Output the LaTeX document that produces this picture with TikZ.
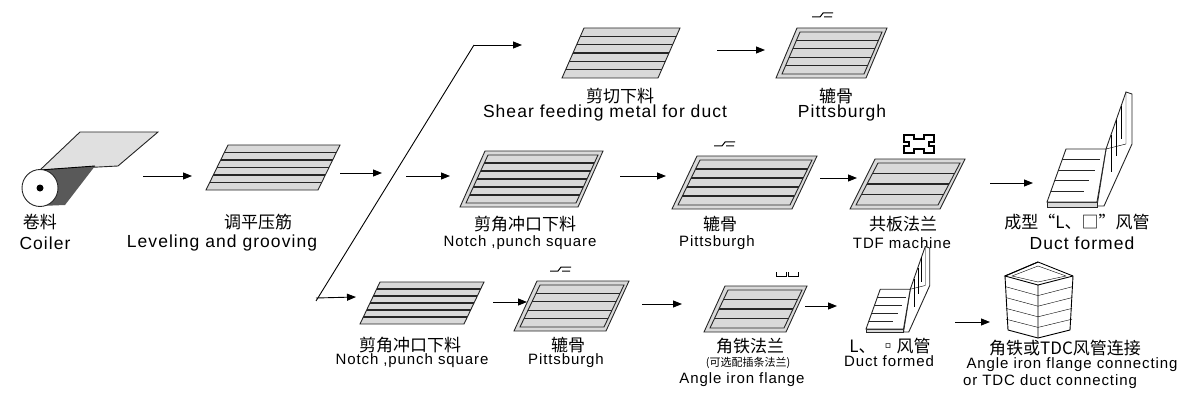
\documentclass[tikz,border=0pt]{standalone}
\usepackage{fontspec}
\setmainfont{Liberation Sans}
\newfontfamily\cjk{Noto Sans CJK SC}
\newfontfamily\spc[LetterSpace=6]{Liberation Sans}
\usetikzlibrary{arrows.meta}
\tikzset{
 sheet/.style={draw=black!85,fill=black!15,line width=0.9pt},
 ln/.style={draw=black!85,line width=1.1pt},
 arr/.style={-{Triangle[length=9pt,width=7pt]},line width=0.9pt},
 cn/.style={font=\cjk\fontsize{17}{17}\selectfont,inner sep=0pt},
 en/.style={font=\spc\fontsize{17.5}{17.5}\selectfont,inner sep=0pt},
 es/.style={font=\spc\fontsize{15}{15}\selectfont,inner sep=0pt},
 sm/.style={font=\cjk\fontsize{11}{11}\selectfont,inner sep=0pt},
}
\newcommand\grsheet[6]{%
 \filldraw[sheet] (#1,#2) -- ++(#3,0) -- ++(-#5,#4) -- ++(-#3,0) -- cycle;
 \foreach \i in {1,...,#6}{\draw[ln] ({#1-#5*\i/(#6+1)},{#2+#4*\i/(#6+1)}) -- ++(#3,0);}}
\newcommand\rmsheet[6]{%
 \filldraw[sheet] ({#1-3},{#2-4}) -- ++({#3+8},0) -- ++({-#5-3},{#4+8}) -- ++({-#3-8},0) -- cycle;
 \grsheet{#1}{#2}{#3}{#4}{#5}{#6}}
\newcommand\pitsym[2]{\draw[line width=1pt] (#1,#2) -- ++(8,0) -- ++(3,-4) -- ++(10,0) (#1+12,#2) -- ++(8,0);}
\newcommand\lduct[3]{%
 \begin{scope}[shift={(#1,#2)},scale=#3]
 \filldraw[sheet,fill=white] (50,4) -- (59,-53) -- (79,-110) -- (85,-108) -- (85,-58) -- (57,4) -- cycle;
 \draw (79,-110) -- (79,-58) -- (59,-53);
 \foreach \t in {0.25,0.5,0.75}{\draw ({59+20*\t},{-53-57*\t}) -- ++(0,{40-10*\t});}
 \filldraw[sheet] (0,0) -- (50,0) -- (50,5) -- (0,5) -- cycle;
 \filldraw[sheet,fill=white] (0,0) -- (19,-53) -- (59,-53) -- (50,0) -- cycle;
 \foreach \t in {0.2,0.4,0.6,0.8}{\draw[ln] ({19-19*\t},{-53+53*\t}) -- ++({40-9*\t},0);}
 \end{scope}}
\begin{document}
\begin{tikzpicture}[x=1pt,y=-1pt]
\useasboundingbox (0,0) rectangle (1199,417);
% coiler
\filldraw[sheet,fill=black!12] (80,132) -- (158,132) -- (118,166) -- (40,170) -- cycle;
\fill[black!65] (40,170) -- (95,166) -- (65,205) -- (40,206) -- cycle;
\draw[line width=0.9pt] (40,170) -- (95,166);
\filldraw[sheet,fill=white] (40,188) ellipse (18 and 18.5);
\fill (40,188) circle (3.5);
\node[cn] (c1) at (40,222) {卷料};
\node[en] (c2) at (45,243) {Coiler};
\coordinate (a1s) at (143,176); \coordinate (a1e) at (192,176);
\draw[arr] (a1s) -- (a1e);
% leveling
\grsheet{228}{145}{112}{45}{22}{5}
\node[cn] (l1) at (258,222) {调平压筋};
\node[en] (l2) at (222,243) {Leveling and grooving};
\coordinate (a2s) at (340,173); \coordinate (a2e) at (382,173);
\draw[arr] (a2s) -- (a2e);
% branch
\coordinate (b0) at (316,301); \coordinate (bt) at (474,45);
\coordinate (bb) at (316,298);
\draw[line width=0.9pt] (b0) -- (bt);
\coordinate (a3e) at (522,45); \draw[arr] (bt) -- (a3e);
\coordinate (a4s) at (406,176); \coordinate (a4e) at (450,176); \draw[arr] (a4s) -- (a4e);
\coordinate (a5e) at (356,297); \draw[arr] (bb) -- (a5e);
% top row
\grsheet{584}{28}{96}{50}{22}{5}
\node[cn] (t1) at (620,96) {剪切下料};
\node[en] (t2) at (605,113) {Shear feeding metal for duct};
\coordinate (a6s) at (717,50); \coordinate (a6e) at (765,50); \draw[arr] (a6s) -- (a6e);
\rmsheet{800}{32}{82}{42}{18}{4}
\pitsym{812}{17}
\node[cn] (t3) at (836,96) {辘骨};
\node[en] (t4) at (842,113) {Pittsburgh};
% middle row
\rmsheet{488}{155}{110}{48}{22}{5}
\node[cn] (m1) at (525,224) {剪角冲口下料};
\node[es] (m2) at (520,243) {Notch ,punch square};
\coordinate (a7s) at (620,176); \coordinate (a7e) at (666,176); \draw[arr] (a7s) -- (a7e);
\rmsheet{700}{160}{112}{45}{22}{4}
\pitsym{714}{146}
\node[cn] (m3) at (720,224) {辘骨};
\node[es] (m4) at (717,243) {Pittsburgh};
\coordinate (a8s) at (820,178); \coordinate (a8e) at (857,178); \draw[arr] (a8s) -- (a8e);
\rmsheet{878}{163}{82}{42}{22}{3}
\draw[line width=1.3pt] (904,135) -- (914,135) -- (914,139) -- (924,139) -- (924,135) -- (934,135) -- (934,142) -- (929,142) -- (929,146) -- (934,146) -- (934,153) -- (924,153) -- (924,149) -- (914,149) -- (914,153) -- (904,153) -- (904,146) -- (909,146) -- (909,142) -- (904,142) -- cycle;
\node[cn] (m5) at (903,224) {共板法兰};
\node[es] (m6) at (902,243) {TDF machine};
\coordinate (a9s) at (990,183); \coordinate (a9e) at (1033,183); \draw[arr] (a9s) -- (a9e);
\lduct{1047}{202}{1}
\node[cn] (m7) at (1077,222) {成型“L、□”风管};
\node[en] (m8) at (1082,243) {Duct formed};
% bottom row
\grsheet{380}{282}{104}{42}{20}{5}
\node[cn] (d1) at (410,345) {剪角冲口下料};
\node[es] (d2) at (412,361) {Notch ,punch square};
\coordinate (b1s) at (493,302); \coordinate (b1e) at (527,302); \draw[arr] (b1s) -- (b1e);
\rmsheet{540}{285}{84}{42}{20}{4}
\pitsym{550}{271}
\node[cn] (d3) at (568,345) {辘骨};
\node[es] (d4) at (566,361) {Pittsburgh};
\coordinate (b2s) at (642,304); \coordinate (b2e) at (682,304); \draw[arr] (b2s) -- (b2e);
\rmsheet{728}{290}{74}{38}{18}{3}
\draw[line width=0.9pt] (776,272) -- (776,276) -- (786,276) -- (786,272) (788,272) -- (788,276) -- (798,276) -- (798,272);
\node[cn] (d5) at (750,346) {角铁法兰};
\node[sm] (d6) at (748,363) {(可选配插条法兰)};
\node[es] (d7) at (742,380) {Angle iron flange};
\coordinate (b3s) at (805,306); \coordinate (b3e) at (837,306); \draw[arr] (b3s) -- (b3e);
\lduct{866}{329}{0.75}
\node[cn] (d8) at (890,346) {L、 ▫风管};
\node[es] (d9) at (889,361) {Duct formed};
\coordinate (b4s) at (955,322); \coordinate (b4e) at (990,322); \draw[arr] (b4s) -- (b4e);
% box
\draw[line width=0.9pt,fill=white] (1038,262) -- (1073,276) -- (1070,330) -- (1038,338) -- (1008,330) -- (1005,276) -- cycle;
\draw[line width=0.9pt] (1038,262) -- (1005,276) -- (1038,285) -- (1073,276) (1038,285) -- (1038,338);
\draw (1038,266) -- (1012,276) -- (1038,282) -- (1066,276) -- cycle;
\foreach \k in {1,2,3,4}{\draw (1006,{276+10.8*\k}) -- (1038,{285+10.6*\k}) -- (1072,{276+10.8*\k});}
\node[cn] (e1) at (1065,348) {角铁或TDC风管连接};
\node[es] (e2) at (1072,365) {Angle iron flange connecting};
\node[es] (e3) at (1050,382) {or TDC duct connecting};
\end{tikzpicture}
\end{document}
